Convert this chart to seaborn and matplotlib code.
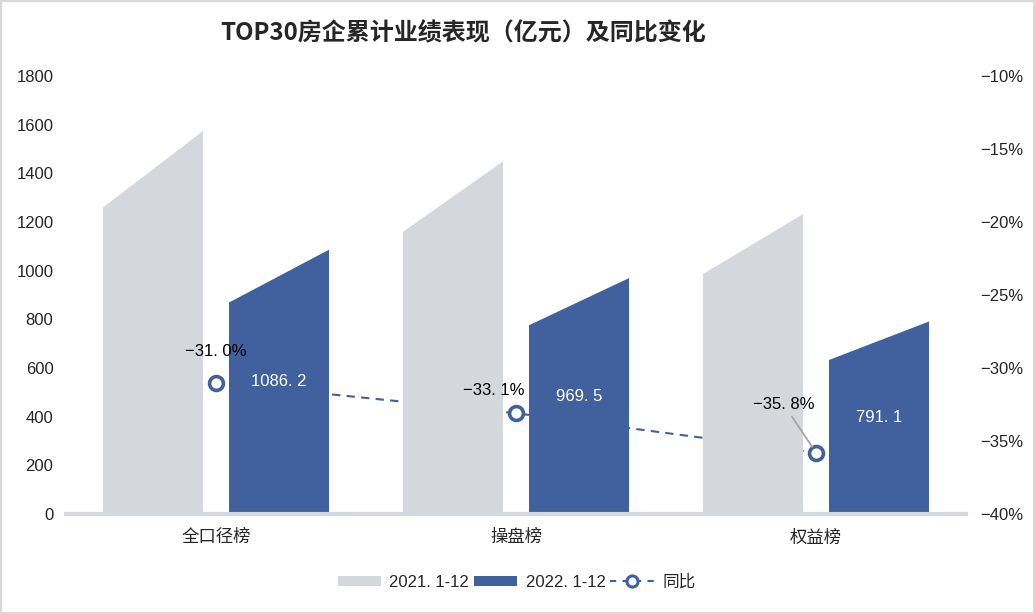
import matplotlib
matplotlib.use('Agg')
import matplotlib.pyplot as plt
import seaborn as sns
import pandas as pd
from matplotlib.patches import Polygon, Patch, Rectangle
from matplotlib.lines import Line2D

# ---------------- data ----------------
categories = ['全口径榜', '操盘榜', '权益榜']
periods = ['2021. 1-12', '2022. 1-12']
sales_2021 = [1574.2, 1449.2, 1232.2]
sales_2022 = [1086.2, 969.5, 791.1]
yoy = [-31.0, -33.1, -35.8]
yoy_label = '同比'
left_ticks = [0, 200, 400, 600, 800, 1000, 1200, 1400, 1600, 1800]
right_ticks = [-40, -35, -30, -25, -20, -15, -10]
title = 'TOP30房企累计业绩表现（亿元）及同比变化'

GRAY = '#D4D7DC'
BLUE = '#41609E'

sns.set_theme(style='white')
plt.rcParams['font.family'] = ['Liberation Sans', 'Noto Sans CJK SC', 'DejaVu Sans']
plt.rcParams['axes.unicode_minus'] = True

fig = plt.figure(figsize=(10.35, 6.14), dpi=100)
fig.patch.set_facecolor('white')
ax = fig.add_axes([66 / 1035, 100 / 614, 900 / 1035, 438 / 614])
ax2 = ax.twinx()
ax.set_zorder(ax2.get_zorder() + 1)
ax.patch.set_visible(False)

df = pd.DataFrame({
    'cat': categories * 2,
    'period': [periods[0]] * len(categories) + [periods[1]] * len(categories),
    'value': sales_2021 + sales_2022,
})
sns.barplot(data=df, x='cat', y='value', hue='period', palette=[GRAY, BLUE],
            width=0.84, gap=0.206, saturation=1, errorbar=None, legend=False, ax=ax)

# reshape bars into slanted-top shapes
for ci, cont in enumerate(ax.containers):
    for p in cont:
        x, w, h = p.get_x(), p.get_width(), p.get_height()
        poly = Polygon([(x, 0), (x, 0.8 * h), (x + w, h), (x + w, 0)], closed=True,
                       facecolor=p.get_facecolor(), edgecolor='none', zorder=2)
        ax.add_patch(poly)
        p.set_visible(False)
        if ci == 1:
            ax.text(x + w / 2, h / 2, f'{h:.1f}'.replace('.', '. '), color='white',
                    ha='center', va='center', fontsize=12, zorder=5)

# yoy line
ldf = pd.DataFrame({'cat': categories, 'yoy': yoy})
sns.lineplot(data=ldf, x='cat', y='yoy', ax=ax2, color=BLUE, linewidth=1.5,
             linestyle=(0, (4, 3)), marker='o', markersize=10, markerfacecolor='white',
             markeredgecolor=BLUE, markeredgewidth=2.6)

offsets = [(0, 31), (-22, 23), (-32, 48)]
for i, (v, off) in enumerate(zip(yoy, offsets)):
    kw = {}
    if i == 2:
        kw['arrowprops'] = dict(arrowstyle='-', color='#A6A6A6', lw=1.3, shrinkA=1, shrinkB=5)
    ax.annotate(f'−{abs(v):.1f}%'.replace('.', '. '), xy=(i, v), xycoords=ax2.transData,
                xytext=off, textcoords='offset pixels', ha='center', va='center',
                fontsize=12, color='black', zorder=6, **kw)

# axes formatting
ax.set_xlim(-0.5, 2.5)
ax.set_ylim(0, 1800)
ax.set_yticks(left_ticks)
ax.set_yticklabels([str(t) for t in left_ticks])
ax2.set_ylim(-40, -10)
ax2.set_yticks(right_ticks)
ax2.set_yticklabels([f'−{abs(t)}%' for t in right_ticks])
ax.set_xlabel('')
ax.set_ylabel('')
ax2.set_xlabel('')
ax2.set_ylabel('')
ax.tick_params(axis='y', length=0, pad=9, labelsize=12)
ax.tick_params(axis='x', length=0, pad=11, labelsize=12.5)
ax2.tick_params(axis='y', length=0, pad=10, labelsize=12)
for a in (ax, ax2):
    for s in ('left', 'right', 'top', 'bottom'):
        a.spines[s].set_visible(False)
ax.spines['bottom'].set_visible(True)
ax.spines['bottom'].set_color(GRAY)
ax.spines['bottom'].set_linewidth(3)
ax.grid(False)
ax2.grid(False)

# title
fig.text(0.447, 0.946, title, ha='center', va='center', fontsize=17.3, fontweight='bold',
         family=['Noto Sans CJK SC', 'DejaVu Sans'])

# legend
handles = [Patch(facecolor=GRAY, edgecolor='none'), Patch(facecolor=BLUE, edgecolor='none'),
           Line2D([], [], color=BLUE, linewidth=1.5, linestyle=(0, (3, 3)), marker='o',
                  markersize=8, markerfacecolor='white', markeredgecolor=BLUE, markeredgewidth=2.2)]
fig.legend(handles, periods + [yoy_label], loc='center', bbox_to_anchor=(0.499, 0.052), ncol=3,
           frameon=False, fontsize=12, handlelength=2.6, handleheight=0.6, handletextpad=0.5,
           columnspacing=0.3)

# outer frame
fig.patches.append(Rectangle((0, 0), 1, 1, transform=fig.transFigure, fill=False,
                             edgecolor='#D9D9D9', linewidth=3, zorder=10))

fig.savefig('out.png', dpi=100, facecolor='white')
